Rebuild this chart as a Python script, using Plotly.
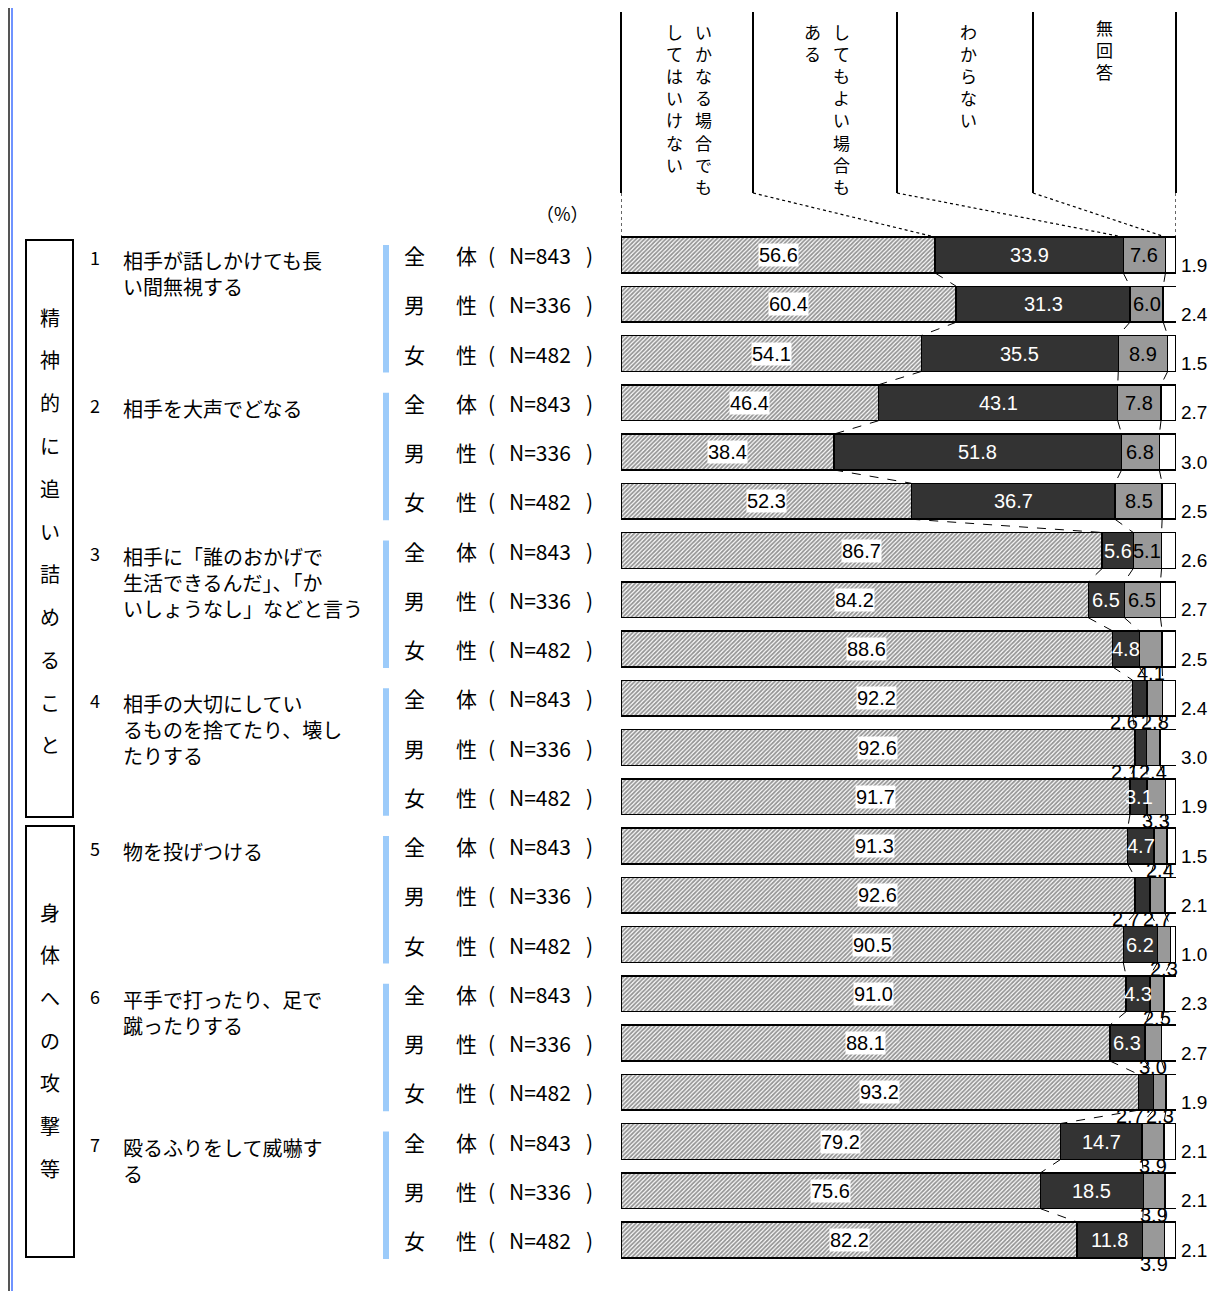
import plotly.graph_objects as go

# page geometry (pixels in the browser window); the page body adds an 8px margin
PAGE_W, PAGE_H = 1224, 1291
OFF = 8
W, H = PAGE_W - OFF, PAGE_H - OFF
ROW0, PITCH = 255, 49.25
X0, X1 = 621, 1176
BAR_W = 0.73

JP = "Noto Sans CJK JP"
NUM = "Liberation Sans"

# ---- data -------------------------------------------------------------
item_lines = [
    ["相手が話しかけても長", "い間無視する"],
    ["相手を大声でどなる"],
    ["相手に「誰のおかげで", "生活できるんだ」、「か", "いしょうなし」などと言う"],
    ["相手の大切にしてい", "るものを捨てたり、壊し", "たりする"],
    ["物を投げつける"],
    ["平手で打ったり、足で", "蹴ったりする"],
    ["殴るふりをして威嚇す", "る"],
]
group_first = ["全", "男", "女"]
group_second = ["体", "性", "性"]
group_n = [843, 336, 482]
categories = ["精神的に追い詰めること", "身体への攻撃等"]
answer_heads = [["いかなる場合でも", "してはいけない"],
                ["してもよい場合も", "ある"],
                ["わからない"],
                ["無回答"]]

never = [56.6, 60.4, 54.1, 46.4, 38.4, 52.3, 86.7, 84.2, 88.6, 92.2, 92.6,
         91.7, 91.3, 92.6, 90.5, 91.0, 88.1, 93.2, 79.2, 75.6, 82.2]
sometimes = [33.9, 31.3, 35.5, 43.1, 51.8, 36.7, 5.6, 6.5, 4.8, 2.6, 2.1,
             3.1, 4.7, 2.7, 6.2, 4.3, 6.3, 2.7, 14.7, 18.5, 11.8]
unknown = [7.6, 6.0, 8.9, 7.8, 6.8, 8.5, 5.1, 6.5, 4.1, 2.8, 2.4,
           3.3, 2.4, 2.7, 2.3, 2.5, 3.0, 2.3, 3.9, 3.9, 3.9]
no_answer = [1.9, 2.4, 1.5, 2.7, 3.0, 2.5, 2.6, 2.7, 2.5, 2.4, 3.0,
             1.9, 1.5, 2.1, 1.0, 2.3, 2.7, 1.9, 2.1, 2.1, 2.1]


def px(x):
    return (x - OFF) / W


def py(y):
    return 1 - (y - OFF) / H


def row_of(p):
    return (p - ROW0) / PITCH


def data_x(p):
    return (p - X0) / (X1 - X0) * 100


rows = list(range(len(never)))
fig = go.Figure()

series = [
    (never, dict(color="white", pattern=dict(shape="/", fgcolor="#2a2a2a", bgcolor="white",
                                             size=3, solidity=0.6))),
    (sometimes, dict(color="#333333")),
    (unknown, dict(color="#999999")),
    (no_answer, dict(color="white")),
]
for vals, marker in series:
    marker["line"] = dict(color="black", width=1.5)
    fig.add_trace(go.Bar(x=vals, y=rows, orientation="h", width=BAR_W,
                         marker=marker, hoverinfo="skip"))

# cumulative boundaries and the dashed connectors between bars
c1 = never
c2 = [a + b for a, b in zip(never, sometimes)]
c3 = [a + b for a, b in zip(c2, unknown)]
half = BAR_W / 2
for c in (c1, c2, c3):
    xs, ys = [], []
    for i in range(len(c) - 1):
        xs += [c[i], c[i + 1], None]
        ys += [i + half, i + 1 - half, None]
    fig.add_trace(go.Scatter(x=xs, y=ys, mode="lines", hoverinfo="skip",
                             line=dict(color="black", width=1, dash="dash")))

# header: column dividers and dotted leaders to the first bar
head_px = [621, 753, 897, 1033, 1176]
targets = [0, c1[0], c2[0], c3[0], 100]
xs, ys = [], []
for hp, t in zip(head_px, targets):
    xs += [data_x(hp), t, None]
    ys += [row_of(193), -half, None]
fig.add_trace(go.Scatter(x=xs, y=ys, mode="lines", hoverinfo="skip",
                         line=dict(color="black", width=1.2, dash="dot")))

shapes = []
for hp in head_px:
    shapes.append(dict(type="line", xref="paper", yref="paper", x0=px(hp), x1=px(hp),
                       y0=py(12), y1=py(193), line=dict(color="black", width=2)))

annotations = []
# vertical header text (columns read right to left), one character per line
head_cols = [[704, 674], [841, 812], [968], [1104]]
head_top = [17, 17, 17, 13]
for texts, xcols, top in zip(answer_heads, head_cols, head_top):
    for text, xc in zip(texts, xcols):
        annotations.append(dict(xref="paper", yref="paper", x=px(xc), y=py(top),
                                xanchor="center", yanchor="top",
                                text="<br>".join(text), showarrow=False,
                                font=dict(family=JP, size=17, color="black")))
annotations.append(dict(xref="paper", yref="paper", x=px(562), y=py(213), xanchor="center",
                        yanchor="middle", text="（%）", showarrow=False,
                        font=dict(family=JP, size=18, color="black")))

# value labels
for i in rows:
    base = dict(xref="x", yref="y", y=i, showarrow=False, xanchor="center", yanchor="middle")
    annotations.append(dict(base, x=never[i] / 2, text=f"{never[i]:.1f}", bgcolor="white", borderpad=0,
                            font=dict(family=NUM, size=20, color="black")))
    mid = c1[i] + sometimes[i] / 2
    if sometimes[i] >= 3.0:
        annotations.append(dict(base, x=mid, text=f"{sometimes[i]:.1f}",
                                font=dict(family=NUM, size=20, color="white")))
    else:
        annotations.append(dict(base, x=mid, text=f"{sometimes[i]:.1f}", xshift=-16, yshift=-24,
                                font=dict(family=NUM, size=20, color="black")))
    gmid = c2[i] + unknown[i] / 2
    if unknown[i] >= 5.0:
        annotations.append(dict(base, x=gmid, text=f"{unknown[i]:.1f}",
                                font=dict(family=NUM, size=20, color="black")))
    else:
        annotations.append(dict(base, x=gmid, text=f"{unknown[i]:.1f}", yshift=-24,
                                font=dict(family=NUM, size=20, color="black")))
    annotations.append(dict(base, x=100, text=f"{no_answer[i]:.1f}", xanchor="left", xshift=3,
                            yshift=-10, font=dict(family=NUM, size=19, color="black")))

# group labels
for i in rows:
    g = i % 3
    base = dict(xref="paper", yref="y", y=i, showarrow=False, xanchor="center", yanchor="middle",
                font=dict(family=JP, size=21, color="black"))
    annotations.append(dict(base, x=px(414), text=group_first[g]))
    annotations.append(dict(base, x=px(466), text=group_second[g]))
    annotations.append(dict(base, x=px(491), text="("))
    annotations.append(dict(base, x=px(540), text=f"N={group_n[g]}"))
    annotations.append(dict(base, x=px(589), text=")"))

# item texts and blue brackets
for k, lines in enumerate(item_lines):
    r = 3 * k
    annotations.append(dict(xref="paper", yref="y", x=px(95), y=r, yshift=-2, text=str(k + 1),
                            xanchor="center", yanchor="middle", showarrow=False,
                            font=dict(family=JP, size=18, color="black")))
    annotations.append(dict(xref="paper", yref="y", x=px(121), y=r, yshift=11,
                            xanchor="left", yanchor="top", align="left", text="<br>".join(lines),
                            showarrow=False, font=dict(family=JP, size=20, color="black")))
    shapes.append(dict(type="rect", xref="paper", yref="y", x0=px(383), x1=px(389),
                       y0=r - 10 / PITCH, y1=r + 2 + 19 / PITCH,
                       fillcolor="#9CCBFA", line=dict(width=0)))

# category boxes with vertical text
boxes = [(26, 240, 73, 817, 317, 42.8), (26, 826, 74, 1257, 912, 42.7)]
for cat, (bx0, by0, bx1, by1, ty, step) in zip(categories, boxes):
    shapes.append(dict(type="rect", xref="paper", yref="paper", x0=px(bx0), x1=px(bx1),
                       y0=py(by0), y1=py(by1), line=dict(color="black", width=2)))
    for j, ch in enumerate(cat):
        annotations.append(dict(xref="paper", yref="paper", x=px((bx0 + bx1) / 2), y=py(ty + step * j),
                                xanchor="center", yanchor="middle",
                                text=ch, showarrow=False, font=dict(family=JP, size=20, color="black")))

# page borders
shapes.append(dict(type="line", xref="paper", yref="paper", x0=px(9), x1=px(9), y0=0, y1=1,
                   line=dict(color="#555555", width=2)))
shapes.append(dict(type="line", xref="paper", yref="paper", x0=px(12), x1=px(12), y0=0, y1=1,
                   line=dict(color="#3f6fff", width=1.5)))
shapes.append(dict(type="line", xref="paper", yref="paper", x0=px(1221), x1=px(1221), y0=0, y1=1,
                   line=dict(color="#333333", width=1)))

fig.update_layout(
    width=W, height=H,
    margin=dict(l=0, r=0, t=0, b=0),
    paper_bgcolor="white", plot_bgcolor="white",
    barmode="stack", showlegend=False,
    xaxis=dict(domain=[px(X0), px(X1)], range=[0, 100], visible=False, fixedrange=True),
    yaxis=dict(domain=[0, 1], range=[row_of(PAGE_H), row_of(OFF)], visible=False, fixedrange=True),
    shapes=shapes,
    annotations=annotations,
)

fig.write_html("out.html")
